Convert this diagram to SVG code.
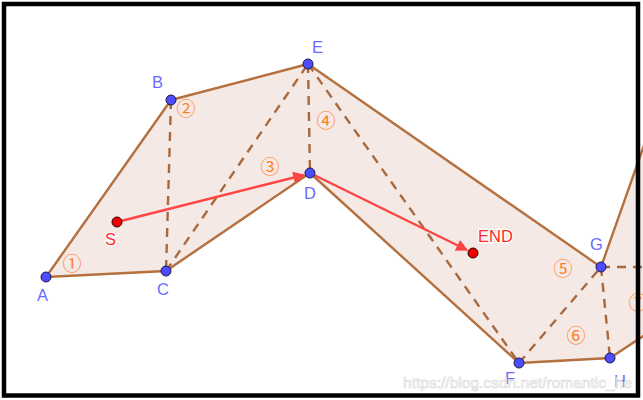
<svg xmlns="http://www.w3.org/2000/svg" width="643" height="400" viewBox="0 0 643 400">
<defs>
<style>
.edge{fill:none;stroke:#b4703f;stroke-width:2.4;stroke-linecap:round;stroke-linejoin:round}
.dash{fill:none;stroke:#a8693f;stroke-width:2.4;stroke-dasharray:9 7}
.arrow{fill:none;stroke:#ff4444;stroke-width:2.4}
.pt{fill:#4d4dff;stroke:#1a1a4d;stroke-width:1}
.rpt{fill:#ee0000;stroke:#330000;stroke-width:1}
.lbl{font-family:"Liberation Sans",Arial,sans-serif;font-size:16.5px;fill:#6a6aff}
.rlbl{font-family:"Liberation Sans",Arial,sans-serif;font-size:16.5px;fill:#ff2a2a;stroke:#ffffff;stroke-width:2.5;paint-order:stroke}
.num{font-family:"Noto Sans CJK SC","DejaVu Sans",sans-serif;font-size:19px;fill:#ff7f2a;text-anchor:middle}
.wm{font-family:"Liberation Sans",Arial,sans-serif;font-size:15px;fill:#ffffff;stroke:#d4d4d4;stroke-width:0.6;opacity:0.9}
</style>
<marker id="ah" viewBox="0 0 10 10" refX="9" refY="5" markerWidth="5" markerHeight="5" orient="auto" markerUnits="strokeWidth">
<path d="M0,0 L10,5 L0,10 z" fill="#ff4444"/>
</marker>
</defs>
<rect width="643" height="400" fill="#ffffff"/>
<g id="region">
<polygon points="46,277 171,100 308,64 601,267 660,100 660,325 610,358 519,363 310,173 166,271" fill="#f4e9e4" stroke="none"/>
</g>
<g id="connectors">
<polyline class="edge" points="46,277 171,100 308,64 601,267 660,100"/>
<polyline class="edge" points="46,277 166,271 310,173 519,363 610,358 660,325"/>
<line class="dash" x1="171" y1="100" x2="166" y2="271"/>
<line class="dash" x1="166" y1="271" x2="308" y2="64"/>
<line class="dash" x1="308" y1="64" x2="310" y2="173"/>
<line class="dash" x1="308" y1="64" x2="519" y2="363"/>
<line class="dash" x1="519" y1="363" x2="601" y2="267"/>
<line class="dash" x1="601" y1="267" x2="610" y2="358"/>
<line class="dash" x1="601" y1="267" x2="660" y2="267"/>
<line class="arrow" x1="117" y1="222" x2="304" y2="175" marker-end="url(#ah)"/>
<line class="arrow" x1="310" y1="173" x2="467" y2="250" marker-end="url(#ah)"/>
</g>
<g id="numbers">
<text class="num" x="72" y="270.5">①</text>
<text class="num" x="186" y="116">②</text>
<text class="num" x="270" y="174">③</text>
<text class="num" x="326" y="128">④</text>
<text class="num" x="563" y="276">⑤</text>
<text class="num" x="576" y="343">⑥</text>
<text class="num" x="638" y="310">⑦</text>
</g>
<g id="A"><circle class="pt" cx="46" cy="277" r="5"/><text class="lbl" x="37" y="301">A</text></g>
<g id="B"><circle class="pt" cx="171" cy="100" r="5"/><text class="lbl" x="152" y="88">B</text></g>
<g id="C"><circle class="pt" cx="166" cy="271" r="5"/><text class="lbl" x="157" y="295">C</text></g>
<g id="D"><circle class="pt" cx="310" cy="173" r="5"/><text class="lbl" x="304" y="199">D</text></g>
<g id="E"><circle class="pt" cx="308" cy="64" r="5"/><text class="lbl" x="312" y="53">E</text></g>
<g id="F"><circle class="pt" cx="519" cy="363" r="5"/><text class="lbl" x="505" y="384">F</text></g>
<g id="G"><circle class="pt" cx="601" cy="267" r="5"/><text class="lbl" x="590" y="250">G</text></g>
<g id="H"><circle class="pt" cx="610" cy="358" r="5"/><text class="lbl" x="614" y="387">H</text></g>
<g id="S"><circle class="rpt" cx="117" cy="222" r="5"/><text class="rlbl" x="105" y="245">S</text></g>
<g id="END"><circle class="rpt" cx="473" cy="253" r="5"/><text class="rlbl" x="478" y="242">END</text></g>
<text class="wm" x="403" y="388" textLength="229" lengthAdjust="spacingAndGlyphs">https://blog.csdn.net/romantic_he</text>
<rect x="4" y="4" width="634" height="391.5" fill="none" stroke="#000000" stroke-width="4.5"/>
</svg>
